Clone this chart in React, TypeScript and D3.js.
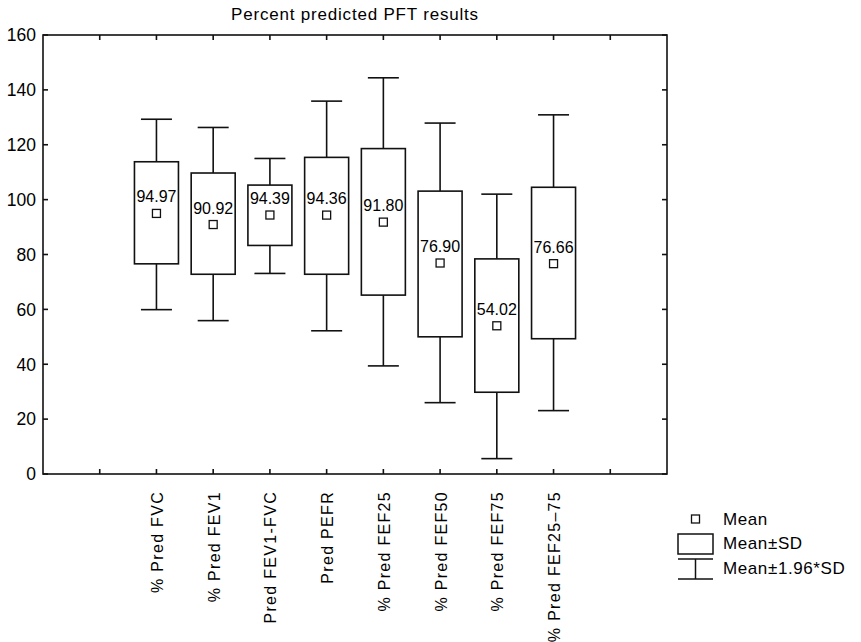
import React from 'react';
import * as d3 from 'd3';

// values
const categories = [
  '% Pred FVC',
  '% Pred FEV1',
  'Pred FEV1-FVC',
  'Pred PEFR',
  '% Pred FEF25',
  '% Pred FEF50',
  '% Pred FEF75',
  '% Pred FEF25\u201375',
];
const means = [94.97, 90.92, 94.39, 94.36, 91.8, 76.9, 54.02, 76.66];
const sdLow = [76.6, 72.8, 83.3, 72.8, 65.2, 50.0, 29.8, 49.3];
const sdHigh = [113.8, 109.7, 105.3, 115.4, 118.6, 103.1, 78.4, 104.5];
const ciLow = [59.9, 55.9, 73.1, 52.2, 39.4, 26.0, 5.6, 23.1];
const ciHigh = [129.3, 126.3, 115.0, 135.9, 144.4, 127.9, 102.0, 130.9];
const yTicks = [0, 20, 40, 60, 80, 100, 120, 140, 160];

const W = 861;
const H = 642;
const margin = { left: 43, top: 35, right: 194, bottom: 168 };
const font = '"Liberation Sans", Arial, sans-serif';

export default function App() {
  const innerW = W - margin.left - margin.right;
  const innerH = H - margin.top - margin.bottom;

  // 12 slots across, categories sit in slots 2..9
  const slot = d3.scaleLinear().domain([0, 11]).range([0, innerW]);
  const y = d3.scaleLinear().domain([0, 160]).range([innerH, 0]);
  const xPos = (i: number) => slot(i + 2);
  const boxW = 44;
  const capW = 31;
  const slotTicks = d3.range(1, 11);

  return (
    <svg width={W} height={H} style={{ position: 'absolute', left: 0, top: 0, fontFamily: font }}>
      <rect width={W} height={H} fill="#fff" />
      <text x={margin.left + innerW / 2} y={20} textAnchor="middle" fontSize={17} letterSpacing={0.8}>
        Percent predicted PFT results
      </text>
      <g transform={`translate(${margin.left},${margin.top})`} stroke="#111" strokeWidth={1.6} fill="none">
        <rect x={0} y={0} width={innerW} height={innerH} />
        {yTicks.map(t => (
          <g key={t}>
            <line x1={0} x2={5} y1={y(t)} y2={y(t)} />
            <line x1={innerW} x2={innerW - 5} y1={y(t)} y2={y(t)} />
            <text x={-7} y={y(t)} dy="0.36em" textAnchor="end" fontSize={17.5} fill="#000" stroke="none">
              {t}
            </text>
          </g>
        ))}
        {slotTicks.map(s => (
          <g key={s}>
            <line x1={slot(s)} x2={slot(s)} y1={innerH} y2={innerH - 5} />
            <line x1={slot(s)} x2={slot(s)} y1={0} y2={5} />
          </g>
        ))}
        {categories.map((c, i) => {
          const cx = xPos(i);
          return (
            <g key={c}>
              <line x1={cx} x2={cx} y1={y(ciHigh[i])} y2={y(sdHigh[i])} />
              <line x1={cx} x2={cx} y1={y(sdLow[i])} y2={y(ciLow[i])} />
              <line x1={cx - capW / 2} x2={cx + capW / 2} y1={y(ciHigh[i])} y2={y(ciHigh[i])} />
              <line x1={cx - capW / 2} x2={cx + capW / 2} y1={y(ciLow[i])} y2={y(ciLow[i])} />
              <rect x={cx - boxW / 2} y={y(sdHigh[i])} width={boxW} height={y(sdLow[i]) - y(sdHigh[i])} fill="#fff" />
              <rect x={cx - 4} y={y(means[i]) - 4} width={8} height={8} fill="#fff" strokeWidth={1.3} />
              <text x={cx} y={y(means[i]) - 11} textAnchor="middle" fontSize={16} fill="#000" stroke="none">
                {means[i].toFixed(2)}
              </text>
              <text
                transform={`translate(${cx + 6.5},${innerH + 17}) rotate(-90)`}
                textAnchor="end"
                fontSize={16}
                letterSpacing={1.3}
                fill="#000"
                stroke="none"
              >
                {c}
              </text>
            </g>
          );
        })}
      </g>
      <g stroke="#111" strokeWidth={1.5} fill="none" fontSize={17} letterSpacing={0.6}>
        <rect x={691.5} y={515} width={8} height={8} strokeWidth={1.3} />
        <text x={723} y={525} fill="#000" stroke="none">Mean</text>
        <rect x={678} y={534} width={35} height={20} />
        <text x={723} y={549} fill="#000" stroke="none">Mean{'\u00b1'}SD</text>
        <line x1={678} x2={713} y1={559} y2={559} />
        <line x1={678} x2={713} y1={579} y2={579} />
        <line x1={695.5} x2={695.5} y1={559} y2={579} />
        <text x={723} y={574} fill="#000" stroke="none">Mean{'\u00b1'}1.96*SD</text>
      </g>
    </svg>
  );
}
